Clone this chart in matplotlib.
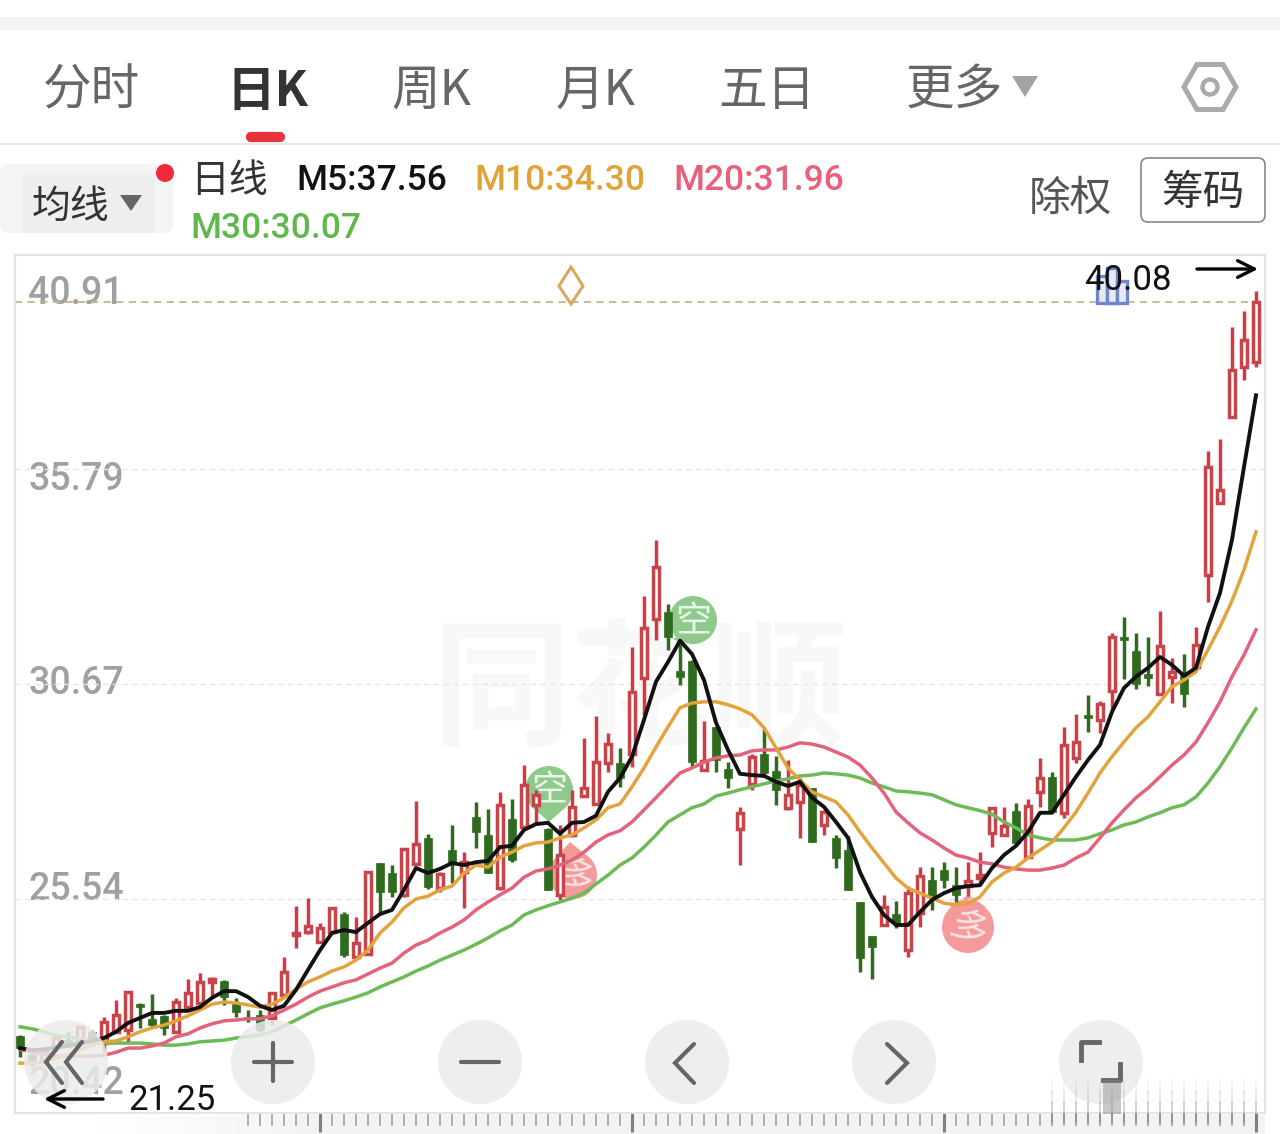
import numpy as np
import matplotlib
matplotlib.use('Agg')
import matplotlib.pyplot as plt
from matplotlib.patches import Circle, Polygon, Rectangle, FancyBboxPatch, RegularPolygon

plt.rcParams['font.family'] = ['Noto Sans CJK SC', 'DejaVu Sans']

# 行情数据
opens = [22.26,21.80,21.68,21.99,22.16,22.09,22.36,22.09,22.36,22.40,
         23.02,22.67,22.74,22.36,22.95,23.05,23.55,23.58,23.02,22.71,
         22.76,22.69,23.24,24.67,24.74,24.50,24.74,25.17,24.14,24.21,
         26.39,26.15,25.63,26.37,26.99,25.79,26.70,26.17,27.49,27.06,
         25.79,27.44,27.25,27.78,27.20,25.63,27.06,27.99,27.80,28.78,
         28.78,29.00,30.81,32.22,32.38,30.98,31.22,28.62,29.65,28.64,
         27.20,28.28,29.00,28.59,27.71,27.85,28.18,27.30,26.99,26.70,
         25.46,24.64,24.91,25.17,24.31,25.20,25.98,26.22,25.86,25.84,
         26.03,27.11,27.06,27.64,26.53,28.09,28.45,27.59,28.90,29.93,
         29.81,30.50,31.79,31.46,30.91,30.43,30.84,30.88,31.07,33.27,
         34.99,37.04,38.23,38.36]
highs = [22.28,21.87,21.99,22.28,22.36,22.50,22.40,22.71,23.12,23.33,
         23.05,23.26,22.76,23.17,23.62,23.76,23.67,23.60,23.17,22.88,
         22.88,23.31,24.14,25.37,25.56,24.96,25.34,25.22,25.10,26.17,
         26.39,26.34,26.72,27.88,27.09,26.17,27.30,26.65,27.85,27.68,
         28.09,27.92,28.73,28.14,27.23,27.30,28.14,29.38,29.91,29.50,
         29.14,31.55,32.77,34.11,32.58,31.72,31.24,29.79,29.65,28.80,
         27.73,29.00,29.60,28.95,28.85,28.42,28.18,27.66,27.06,27.04,
         25.46,24.64,25.63,25.48,25.84,26.29,26.29,26.41,26.29,26.41,
         26.65,27.71,27.73,27.83,27.92,28.90,28.57,29.65,29.95,30.41,
         30.27,31.89,32.27,31.89,31.79,32.41,31.29,31.38,32.03,36.23,
         36.52,39.20,39.57,40.05]
lows = [21.75,21.54,21.63,21.92,21.99,22.07,22.07,21.87,22.36,22.12,
        22.45,22.48,22.28,22.33,22.93,23.02,23.19,23.00,22.71,22.59,
        22.36,22.52,23.19,24.36,24.69,24.48,24.72,24.14,24.12,24.19,
        25.20,25.58,25.58,26.34,25.77,25.70,25.91,25.32,26.75,26.15,
        25.75,26.41,27.23,27.35,25.75,25.51,27.01,27.97,27.78,28.57,
        28.21,28.69,29.93,31.72,31.48,30.65,28.69,28.59,28.57,28.18,
        26.34,28.14,28.50,27.78,27.66,26.99,26.89,27.06,26.27,25.75,
        23.79,23.62,24.88,24.84,24.14,24.86,25.27,25.79,25.46,25.60,
        25.86,26.77,27.04,26.82,26.51,27.73,27.59,27.47,28.78,29.53,
        29.50,30.05,30.79,30.55,30.62,30.41,30.22,30.12,31.05,32.62,
        34.99,37.04,37.92,38.24]
closes = [21.97,21.63,21.92,22.21,22.02,22.48,22.12,22.59,22.76,23.31,
          22.95,22.52,22.45,23.07,23.29,23.55,23.62,23.19,22.83,22.67,
          22.40,23.29,23.79,24.72,24.88,24.84,25.32,24.19,24.48,26.17,
          25.70,25.70,26.72,26.84,25.82,26.12,26.39,26.41,27.13,26.15,
          27.78,26.46,28.25,28.02,25.75,26.58,27.73,28.18,28.80,29.23,
          28.42,30.48,32.00,33.46,31.79,30.84,28.80,28.83,28.85,28.42,
          27.59,28.93,28.54,28.14,28.02,28.25,26.89,27.61,26.51,25.75,
          24.12,24.38,25.34,24.96,25.67,26.08,25.58,25.98,25.63,25.96,
          26.10,27.71,27.28,26.87,27.76,28.42,27.61,29.21,29.28,29.86,
          30.19,31.79,31.72,30.67,30.81,31.58,30.96,30.43,31.60,35.85,
          35.30,38.16,38.88,39.79]

# 均线
m5 = [21.97,21.92,21.94,21.99,22.02,22.09,22.14,22.21,22.36,22.57,
      22.69,22.81,22.81,22.86,22.86,22.95,23.17,23.33,23.33,23.19,
      22.98,22.88,22.98,23.36,23.84,24.31,24.72,24.79,24.74,24.96,
      25.17,25.27,25.75,26.27,26.15,26.25,26.39,26.34,26.41,26.44,
      26.77,26.80,27.18,27.32,27.35,27.09,27.35,27.37,27.52,28.09,
      28.42,28.93,29.81,30.72,31.19,31.70,31.38,30.76,29.74,29.09,
      28.52,28.49,28.47,28.33,28.23,28.33,27.95,27.73,27.37,26.99,
      26.17,25.58,25.15,24.91,24.91,25.22,25.51,25.67,25.79,25.84,
      25.86,26.27,26.58,26.80,27.13,27.59,27.59,28.02,28.45,28.85,
      29.21,30.00,30.57,30.84,31.05,31.31,31.12,30.86,31.05,32.03,
      32.84,34.11,35.85,37.56]
m10 = [21.61,21.61,21.63,21.73,21.82,21.92,22.04,22.12,22.14,22.24,
       22.36,22.45,22.52,22.62,22.74,22.88,23.02,23.07,23.05,23.00,
       22.95,23.02,23.17,23.38,23.55,23.67,23.81,23.91,24.07,24.31,
       24.72,24.98,25.32,25.53,25.60,25.75,25.84,26.15,26.34,26.29,
       26.53,26.65,26.80,26.87,26.89,26.99,27.06,27.23,27.42,27.71,
       27.80,28.21,28.66,29.16,29.64,30.10,30.21,30.24,30.24,30.17,
       30.07,29.93,29.62,29.14,28.66,28.37,28.09,27.97,27.85,27.54,
       27.13,26.75,26.39,26.03,25.79,25.67,25.55,25.43,25.39,25.43,
       25.58,25.94,26.15,26.29,26.51,26.70,26.89,27.23,27.61,28.06,
       28.54,28.93,29.28,29.62,29.88,30.24,30.60,30.76,30.96,31.48,
       32.03,32.65,33.39,34.30]
m20 = [21.94,21.87,21.82,21.78,21.78,21.78,21.78,21.80,21.87,21.97,
       21.97,22.02,22.09,22.24,22.31,22.45,22.55,22.62,22.64,22.67,
       22.67,22.74,22.88,23.02,23.19,23.33,23.43,23.53,23.60,23.74,
       23.88,24.00,24.24,24.43,24.55,24.72,24.86,25.03,25.27,25.46,
       25.63,25.79,26.05,26.20,26.25,26.34,26.46,26.65,26.89,27.06,
       27.16,27.37,27.66,27.95,28.25,28.54,28.66,28.80,28.90,28.95,
       28.97,29.07,29.09,29.09,29.16,29.26,29.23,29.16,29.04,28.92,
       28.73,28.42,28.06,27.61,27.35,27.11,26.94,26.75,26.58,26.51,
       26.41,26.37,26.29,26.25,26.22,26.22,26.27,26.34,26.51,26.65,
       26.99,27.35,27.66,27.95,28.18,28.45,28.73,28.97,29.28,29.74,
       30.24,30.84,31.36,31.96]
m30 = [22.48,22.43,22.36,22.28,22.24,22.19,22.12,22.09,22.09,22.09,
       22.09,22.07,22.04,22.04,22.07,22.12,22.14,22.16,22.21,22.24,
       22.28,22.36,22.50,22.64,22.79,22.93,23.02,23.10,23.19,23.29,
       23.43,23.55,23.67,23.81,23.93,24.07,24.19,24.31,24.45,24.60,
       24.77,24.91,25.15,25.27,25.37,25.46,25.55,25.67,25.89,26.10,
       26.34,26.51,26.77,27.06,27.37,27.54,27.71,27.80,27.99,28.06,
       28.14,28.21,28.28,28.35,28.40,28.47,28.49,28.54,28.52,28.49,
       28.42,28.30,28.21,28.11,28.09,28.06,28.02,27.90,27.78,27.71,
       27.64,27.56,27.37,27.23,27.06,26.99,26.94,26.94,26.94,26.99,
       27.09,27.18,27.30,27.37,27.49,27.59,27.71,27.78,27.97,28.30,
       28.69,29.14,29.62,30.07]

price_ticks = [40.91, 35.79, 30.67, 25.54, 20.42]
tick_labels = ['40.91', '35.79', '30.67', '25.54', '20.42']
last_price = 39.79

RED = '#cf3a44'
GREEN = '#2f6a1e'

fig = plt.figure(figsize=(12.8, 11.34), dpi=100, facecolor='white')


def px_axes(z):
    a = fig.add_axes([0, 0, 1, 1], zorder=z)
    a.set_xlim(0, 1280)
    a.set_ylim(1134, 0)
    a.axis('off')
    a.patch.set_visible(False)
    return a


# 底层: 界面文字、水印、信号标记
back = px_axes(0)
front = px_axes(2)

# K线坐标轴
ax = fig.add_axes([15 / 1280, 1 - 1113 / 1134, 1250 / 1280, 858 / 1134], zorder=1)
ax.patch.set_visible(False)
ax.set_xlim(-5 / 12, 1245 / 12)
ax.set_ylim(price_ticks[-1], price_ticks[0])

x = np.arange(len(closes))
for i in x:
    o, h, l, c = opens[i], highs[i], lows[i], closes[i]
    top, bot = max(o, c), min(o, c)
    if c >= o:
        ax.vlines(i, top, h, color=RED, lw=2.5, zorder=3)
        ax.vlines(i, l, bot, color=RED, lw=2.5, zorder=3)
        ax.bar(i, top - bot, bottom=bot, width=0.56, facecolor='white',
               edgecolor='#c8444b', lw=2.5, zorder=4)
    else:
        ax.vlines(i, l, h, color=GREEN, lw=2.5, zorder=3)
        ax.bar(i, top - bot, bottom=bot, width=0.66, color=GREEN, lw=0.5,
               edgecolor=GREEN, zorder=4)

ax.plot(x, m30, color='#6dbb56', lw=2.5, zorder=5)
ax.plot(x, m20, color='#e2637b', lw=2.5, zorder=5)
ax.plot(x, m10, color='#e3a33c', lw=2.5, zorder=5)
ax.plot(x, m5, color='#111111', lw=2.8, zorder=6)

# 网格和现价线
for p in price_ticks[1:4]:
    ax.axhline(p, color='#e6e6e6', lw=1.0, ls=(0, (4, 3)), zorder=1)
ax.axhline(last_price, color='#c9b38d', lw=1.3, ls=(0, (4, 3)), zorder=2)

for s in ax.spines.values():
    s.set_color('#e4e4e4')
    s.set_linewidth(1.5)
ax.set_yticks([])
ax.set_xticks([25, 51, 77, 103])
ax.set_xticks(np.arange(19, 104), minor=True)
ax.tick_params(axis='x', which='major', length=14, width=2.2, color='#808080', labelbottom=False, pad=0)
ax.tick_params(axis='x', which='minor', length=9, width=1.1, color='#9a9a9a')
for k, t in enumerate(ax.xaxis.get_minorticklines()[1::2][:5]):
    t.set_alpha(0.2 + 0.16 * k)

# 顶部
back.add_patch(Rectangle((0, 17), 1280, 13, color='#f3f3f3', lw=0))
tabs = [('分时', 91), ('周K', 431), ('月K', 596), ('五日', 767), ('更多', 954)]
for s, cx in tabs:
    back.text(cx, 91, s, fontsize=35, color='#666666', ha='center', va='center')
back.text(267, 91, '日K', fontsize=35, color='#333333', ha='center', va='center', fontweight='bold')
back.add_patch(FancyBboxPatch((248, 134), 35, 6, boxstyle='round,pad=0,rounding_size=3',
                              fc='#e8323c', ec='#e8323c', lw=3))
back.plot([0, 1280], [143.5, 143.5], color='#e3e3e3', lw=1.2)
back.add_patch(Polygon([[1012, 76], [1038, 76], [1025, 97]], color='#a3a3a3', lw=0))
back.add_patch(RegularPolygon((1210, 87), 6, radius=26, orientation=np.pi / 6, fc='none', ec='#aaaaaa', lw=3.6))
back.add_patch(Circle((1210, 87), 7.5, fc='none', ec='#aaaaaa', lw=3.2))

# 均线栏
back.add_patch(FancyBboxPatch((0, 164), 173, 69, boxstyle='round,pad=0,rounding_size=9', fc='#f4f4f4', ec='none'))
back.add_patch(FancyBboxPatch((22, 173), 133, 60, boxstyle='round,pad=0,rounding_size=6', fc='#eeeeee', ec='none'))
back.text(71, 207, '均线', fontsize=28, color='#333333', ha='center', va='center')
back.add_patch(Polygon([[120, 195], [142, 195], [131, 211]], color='#666666', lw=0))
back.add_patch(Circle((165, 173), 9, color='#f0293c', lw=0))
back.text(229, 181, '日线', fontsize=28, color='#333333', ha='center', va='center')
back.text(296, 181, 'M5:37.56', fontsize=25.5, color='#111111', family='Roboto', fontweight=500, ha='left', va='center')
back.text(474, 181, 'M10:34.30', fontsize=25.5, color='#e0a338', family='Roboto', fontweight=500, ha='left', va='center')
back.text(673, 181, 'M20:31.96', fontsize=25.5, color='#e8607a', family='Roboto', fontweight=500, ha='left', va='center')
back.text(190, 229, 'M30:30.07', fontsize=25.5, color='#60b84c', family='Roboto', fontweight=500, ha='left', va='center')
back.text(1070, 199, '除权', fontsize=30, color='#555555', ha='center', va='center')
back.add_patch(FancyBboxPatch((1141, 158), 124, 64, boxstyle='round,pad=0,rounding_size=7',
                              fc='white', ec='#888888', lw=1.2))
back.text(1203, 193, '筹码', fontsize=30, color='#333333', ha='center', va='center', zorder=3)

# 价格刻度文字
label_y = [294, 479, 684, 889, 1083]
for s, ly in zip(tick_labels, label_y):
    back.text(28, ly, s, fontsize=27, color='#a0a0a0', family='Roboto', fontweight=500, ha='left', va='center')

back.text(640, 694, '同花顺', fontsize=100, color='#f8f8f8', ha='center', va='center',
          fontweight='bold', zorder=0.5)

# 信号标记
back.add_patch(Polygon([[567, 806], [549, 822], [531, 806]], color='#8fca8c', lw=0, zorder=2))
back.add_patch(Circle((549, 790), 24, color='#8fca8c', lw=0, zorder=2))
back.text(549, 792, '空', fontsize=26, color='#e9f5e8', ha='center', va='center')
back.add_patch(Polygon([[712, 637], [680, 643], [672, 638]], color='#8fca8c', lw=0, zorder=2))
back.add_patch(Circle((693, 620), 24, color='#8fca8c', lw=0, zorder=2))
back.text(693, 623, '空', fontsize=26, color='#e9f5e8', ha='center', va='center')
back.add_patch(Polygon([[551, 863], [570, 842], [592, 860]], color='#f49a9a', lw=0, zorder=2))
back.add_patch(Circle((573, 875), 24, color='#f49a9a', lw=0, zorder=2))
back.text(574, 878, '多', fontsize=26, color='#fbe3e3', ha='center', va='center', rotation=-25)
back.add_patch(Polygon([[950, 907], [968, 895], [986, 907]], color='#f49a9a', lw=0, zorder=2))
back.add_patch(Circle((968, 927), 26, color='#f49a9a', lw=0, zorder=2))
back.text(968, 930, '多', fontsize=27, color='#fbe3e3', ha='center', va='center', rotation=-25)

# 底部渐变
grad = np.linspace(0, 1, 64).reshape(1, -1)
grad = np.clip((grad - 0.06) / 0.2, 0, 1)
back.imshow(1 - grad * 0.05, extent=(0, 1265, 1134, 1115), aspect='auto', cmap='gray', vmin=0, vmax=1, zorder=0)
back.set_xlim(0, 1280)
back.set_ylim(1134, 0)

# 前层: 最高最低提示
front.add_patch(Rectangle((1097, 276), 10, 27, fc='#e6eaf6', ec='#6f86c8', lw=2.4))
front.add_patch(Rectangle((1107, 268), 10, 35, fc='#e6eaf6', ec='#6f86c8', lw=2.4))
front.add_patch(Rectangle((1117, 281), 10, 22, fc='#e6eaf6', ec='#6f86c8', lw=2.4))
front.add_patch(Polygon([[571, 267], [583, 286], [571, 304], [559, 286]], fc='none', ec='#d9a860', lw=2.2))
front.text(1128, 280, '40.08', fontsize=25, color='#111111', family='Roboto', ha='center', va='center')
front.annotate('', xy=(1258, 269), xytext=(1197, 269),
               arrowprops=dict(arrowstyle='->', lw=2.4, color='black', mutation_scale=30, shrinkA=0, shrinkB=0))

# 按钮
btn_x = [66, 273, 480, 687, 894, 1101]
for bx in btn_x:
    front.add_patch(Circle((bx, 1062), 42, fc='#ebebeb', ec='none', alpha=0.85, zorder=3))
ICON = dict(color='#666666', lw=3.0, zorder=4, solid_capstyle='round', solid_joinstyle='miter')
front.plot([62, 46, 62], [1042, 1062, 1083], **ICON)
front.plot([82, 66, 82], [1042, 1062, 1083], **ICON)
front.plot([254, 292], [1062, 1062], **ICON)
front.plot([273, 273], [1043, 1081], **ICON)
front.plot([461, 499], [1062, 1062], **ICON)
front.plot([694, 675, 694], [1044, 1063, 1083], **ICON)
front.plot([887, 907, 887], [1044, 1063, 1083], **ICON)
front.plot([1081, 1081, 1099], [1060, 1042, 1042], color='#666666', lw=3.5, zorder=4)
front.plot([1120, 1120, 1103], [1064, 1080, 1080], color='#666666', lw=3.5, zorder=4)

# 右下角残影
for tx in np.arange(1052, 1260, 12):
    for y0, y1, al in [(1080, 1092, 0.07), (1092, 1103, 0.16), (1103, 1114, 0.3), (1114, 1122, 0.45)]:
        front.plot([tx, tx], [y0, y1], color='#777777', lw=1.4, alpha=al, zorder=5)
front.add_patch(Rectangle((1103, 1080), 18, 34, color='#888888', alpha=0.45, lw=0, zorder=5))

# 最低价提示
front.text(172, 1100, '21.25', fontsize=25, color='#111111', family='Roboto', ha='center', va='center', zorder=6)
front.annotate('', xy=(44, 1099), xytext=(103, 1099), zorder=6,
               arrowprops=dict(arrowstyle='->', lw=2.4, color='black', mutation_scale=30, shrinkA=0, shrinkB=0))

fig.savefig('out.png', dpi=100)
